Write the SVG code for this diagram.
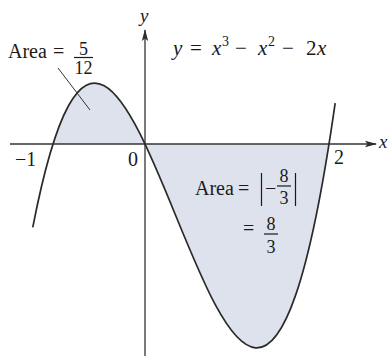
<svg xmlns="http://www.w3.org/2000/svg" width="389" height="360" viewBox="0 0 389 360">
  <defs>
    <marker id="arrow" viewBox="0 0 12 8" refX="11" refY="4" markerWidth="12" markerHeight="8" markerUnits="userSpaceOnUse" orient="auto">
      <path d="M0,0.8 L12,4 L0,7.2 L2.5,4 Z" fill="#2e2e2e"/>
    </marker>
  </defs>
  <style>
    .axis { stroke: #333; stroke-width: 1.3; fill: none; }
    .curve { stroke: #2a2a2a; stroke-width: 1.7; fill: none; }
    .shade { fill: #dde2ec; stroke: none; }
    .t { font-family: "Liberation Serif", "Times New Roman", serif; fill: #1a1a1a; }
    .it { font-style: italic; }
    .lead { stroke: #333; stroke-width: 1; fill: none; }
    .bar { stroke: #1a1a1a; stroke-width: 1.2; }
  </style>
  <rect width="389" height="360" fill="#ffffff"/>

  <g id="shading">
    <path class="shade" d="M53,144 C145,-145.5 237,723 329,144 Z"/>
  </g>

  <g id="axes">
    <line class="axis" x1="10" y1="144" x2="376" y2="144" marker-end="url(#arrow)"/>
    <line class="axis" x1="145" y1="356" x2="145" y2="30" marker-end="url(#arrow)"/>
    <text class="t it" x="379" y="148" font-size="19">x</text>
    <text class="t it" x="140" y="22" font-size="19">y</text>
    <text class="t" x="15" y="166" font-size="20">−1</text>
    <text class="t" x="128" y="166" font-size="20">0</text>
    <text class="t" x="334" y="164" font-size="20">2</text>
  </g>

  <g id="curve">
    <path class="curve" d="M32.76,227.4 C133.56,-291.24 234.36,809.67 335.16,103.01"/>
  </g>

  <g id="equation">
    <text class="t it" x="173" y="55" font-size="21">y</text>
    <text class="t" x="190" y="55" font-size="21">=</text>
    <text class="t it" x="212" y="55" font-size="21">x</text>
    <text class="t" x="222" y="46" font-size="14">3</text>
    <text class="t" x="235" y="55" font-size="21">−</text>
    <text class="t it" x="258" y="55" font-size="21">x</text>
    <text class="t" x="268" y="46" font-size="14">2</text>
    <text class="t" x="282" y="55" font-size="21">−</text>
    <text class="t" x="306" y="55" font-size="21">2</text>
    <text class="t it" x="317" y="55" font-size="21">x</text>
  </g>

  <g id="area-left">
    <text class="t" x="8" y="58" font-size="20">Area</text>
    <text class="t" x="53" y="58" font-size="20">=</text>
    <text class="t" x="83.5" y="55" font-size="18" text-anchor="middle">5</text>
    <line class="bar" x1="74" y1="57.5" x2="93" y2="57.5"/>
    <text class="t" x="83.5" y="74" font-size="18" text-anchor="middle">12</text>
    <line class="lead" x1="58" y1="68" x2="90" y2="110"/>
  </g>

  <g id="area-right">
    <text class="t" x="195" y="195" font-size="20">Area</text>
    <text class="t" x="238" y="195" font-size="20">=</text>
    <line class="bar" x1="261.5" y1="173" x2="261.5" y2="206"/>
    <text class="t" x="265" y="195" font-size="20">−</text>
    <text class="t" x="284" y="182" font-size="18" text-anchor="middle">8</text>
    <line class="bar" x1="277" y1="186" x2="291" y2="186"/>
    <text class="t" x="284" y="204" font-size="18" text-anchor="middle">3</text>
    <line class="bar" x1="295.5" y1="173" x2="295.5" y2="206"/>
    <text class="t" x="243" y="235" font-size="20">=</text>
    <text class="t" x="271" y="230" font-size="18" text-anchor="middle">8</text>
    <line class="bar" x1="264" y1="234" x2="278" y2="234"/>
    <text class="t" x="271" y="253" font-size="18" text-anchor="middle">3</text>
  </g>
</svg>
